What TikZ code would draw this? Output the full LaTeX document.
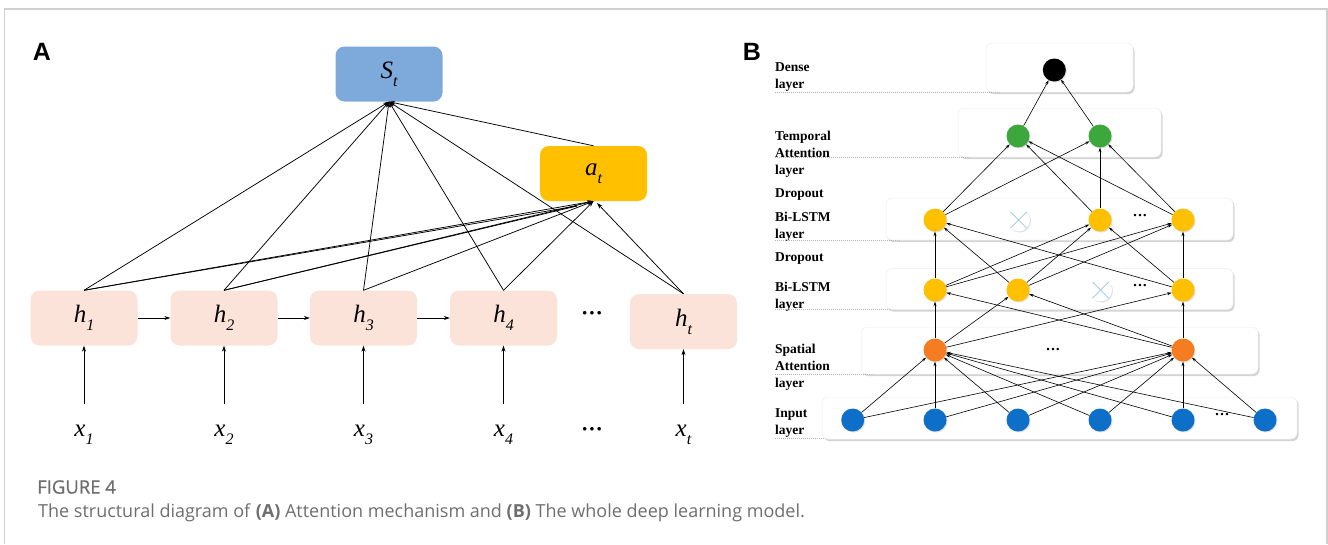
\documentclass[tikz,border=0pt]{standalone}
\usepackage{fontspec}
\setmainfont{Liberation Serif}
\newfontfamily\capfont{Open Sans}
\newfontfamily\capfontmed[FakeBold=0.8]{Open Sans}
\newfontfamily\panelfont{Liberation Sans}
\usetikzlibrary{arrows.meta,shadows}

\definecolor{stblue}{HTML}{7EAADB}
\definecolor{atgold}{HTML}{FFC000}
\definecolor{hpeach}{HTML}{FCE3D9}
\definecolor{inblue}{HTML}{0E6FC8}
\definecolor{saorange}{HTML}{F57C20}
\definecolor{tagreen}{HTML}{3DA63D}
\definecolor{lstmgold}{HTML}{FFC000}
\definecolor{xblue}{HTML}{9DC3E6}
\definecolor{framegray}{HTML}{D0D0D0}
\definecolor{capgray}{HTML}{6E6E6E}

\newcommand\lsub[1]{\raisebox{-0.32em}{\fontsize{16}{16}\selectfont #1}}

\tikzset{
  x=1pt, y=-1pt,
  blockA/.style={rectangle, rounded corners=9pt, inner sep=0pt,
    minimum width=107pt, minimum height=55pt,
    font=\fontsize{25}{25}\selectfont\itshape},
  hcell/.style={blockA, fill=hpeach},
  inlabel/.style={inner sep=0pt, minimum height=62pt,
    font=\fontsize{25}{25}\selectfont\itshape},
  arr/.style={-{Stealth[length=6pt,width=4pt]}, line width=0.75pt},
  link/.style={-{Stealth[length=4.5pt,width=3pt]}, line width=0.6pt},
  layerbox/.style={rectangle, rounded corners=6pt, fill=white,
    draw=black!7, line width=0.5pt,
    drop shadow={shadow xshift=1.5pt, shadow yshift=-2pt, opacity=0.35}},
  neuron/.style={circle, minimum size=23pt, inner sep=0pt,
    drop shadow={shadow xshift=1pt, shadow yshift=-1pt, opacity=0.25}},
  dropped/.style={neuron, fill=white,
    path picture={\draw[xblue, line width=0.7pt]
      (path picture bounding box.south west) -- (path picture bounding box.north east)
      (path picture bounding box.north west) -- (path picture bounding box.south east);}},
  layername/.style={anchor=north west, align=left, inner sep=0pt,
    font=\bfseries\fontsize{13.5}{17}\selectfont},
  guide/.style={draw=black!30, line width=0.6pt, dash pattern=on 1pt off 1pt},
  dots/.style={font=\bfseries\fontsize{22}{22}\selectfont, inner sep=0pt},
  dotsB/.style={font=\bfseries\fontsize{15}{15}\selectfont, inner sep=0pt},
}

\begin{document}
\begin{tikzpicture}
\useasboundingbox (0,0) rectangle (1328,544);

% outer frame
\draw[framegray, line width=1.5pt] (4.5,544) -- (4.5,9) -- (1327,9) -- (1327,544);

% ---------------- panel A: attention mechanism ----------------
\node[font=\panelfont\bfseries\fontsize{25}{25}\selectfont] (labA) at (42,52) {A};

\node[blockA, fill=stblue] (St) at (389,74) {S\lsub{t}};
\node[blockA, fill=atgold] (at) at (593.5,173.5) {a\lsub{t}};

\node[hcell] (h1) at (84,318) {h\lsub{1}};
\node[hcell] (h2) at (224,318) {h\lsub{2}};
\node[hcell] (h3) at (363.5,318) {h\lsub{3}};
\node[hcell] (h4) at (503.5,318) {h\lsub{4}};
\node[hcell] (ht) at (683.5,321.5) {h\lsub{t}};
\node[dots] (hdots) at (592,316) {···};

\node[inlabel] (x1) at (84,435) {x\lsub{1}};
\node[inlabel] (x2) at (224,435) {x\lsub{2}};
\node[inlabel] (x3) at (363.5,435) {x\lsub{3}};
\node[inlabel] (x4) at (503.5,435) {x\lsub{4}};
\node[inlabel] (xt) at (683.5,435) {x\lsub{t}};
\node[dots] (xdots) at (592,432) {···};

\coordinate (atL) at (577,206);
\coordinate (atR) at (597,203);

% inputs and recurrence
\foreach \i/\h in {x1/h1,x2/h2,x3/h3,x4/h4,xt/ht}
  \draw[arr] (\i.north) -- (\h.south);
\draw[arr] (h1) -- (h2);
\draw[arr] (h2) -- (h3);
\draw[arr] (h3) -- (h4);

% hidden states to the context vector
\foreach \h in {h1,h2,h3,h4,ht}
  \draw[arr] (\h.north) -- (St.south);
\draw[arr] (at.north) -- (St.south);

% hidden states to the attention weights
\draw[arr] (h1.north) -- (at.south);
\draw[line width=0.75pt] (h1.north) -- (atL);
\draw[arr] (h2.north) -- (at.south);
\draw[line width=0.75pt] (h2.north) -- (atL);
\draw[arr] (h3.north) -- (at.south);
\draw[arr] (h4.north) -- (at.south);
\draw[arr] (ht.north) -- (atR);

% ---------------- panel B: full model ----------------
\node[font=\panelfont\bfseries\fontsize{25}{25}\selectfont] (labB) at (752,51.5) {B};

% layer names and guide lines
\node[layername] (nDense) at (775,62) {Dense\\layer};
\node[layername] (nTemp) at (775,130.5) {Temporal\\Attention\\layer};
\node[layername] (nDrop1) at (775,188.5) {Dropout};
\node[layername] (nLstm1) at (775,211.5) {Bi-LSTM\\layer};
\node[layername] (nDrop2) at (775,252.3) {Dropout};
\node[layername] (nLstm2) at (775,282.3) {Bi-LSTM\\layer};
\node[layername] (nSpat) at (775,343.5) {Spatial\\Attention\\layer};
\node[layername] (nIn) at (775,408.5) {Input\\layer};

\draw[guide] (775,92) -- (1000,92);
\draw[guide] (775,157) -- (970,157);
\draw[guide] (775,240) -- (900,240);
\draw[guide] (775,309.5) -- (900,309.5);
\draw[guide] (775,374) -- (875,374);
\draw[guide] (775,438.5) -- (835,438.5);

% layer panels
\node[layerbox, minimum width=147pt, minimum height=49pt] (bDense) at (1059.5,67.5) {};
\node[layerbox, minimum width=203pt, minimum height=49pt] (bTemp) at (1059.5,132.5) {};
\node[layerbox, minimum width=347pt, minimum height=42pt] (bLstm1) at (1059.5,219) {};
\node[layerbox, minimum width=347pt, minimum height=41pt] (bLstm2) at (1059.5,289) {};
\node[layerbox, minimum width=397pt, minimum height=47pt] (bSpat) at (1059.5,350.5) {};
\node[layerbox, minimum width=475pt, minimum height=42pt] (bIn) at (1059.5,418) {};

% neurons
\node[neuron, fill=black] (d1) at (1054.3,70) {};
\node[neuron, fill=tagreen] (g1) at (1018,136) {};
\node[neuron, fill=tagreen] (g2) at (1100,136) {};

\node[neuron, fill=lstmgold] (u1) at (935,220) {};
\node[dropped] (u2) at (1018.5,220) {};
\node[neuron, fill=lstmgold] (u3) at (1100,220) {};
\node[dotsB] (udots) at (1140,217) {···};
\node[neuron, fill=lstmgold] (u4) at (1183,220) {};

\node[neuron, fill=lstmgold] (l1) at (935,290) {};
\node[neuron, fill=lstmgold] (l2) at (1018,290) {};
\node[dropped] (l3) at (1100.5,290) {};
\node[dotsB] (ldots) at (1140,287) {···};
\node[neuron, fill=lstmgold] (l4) at (1183,290) {};

\node[neuron, fill=saorange] (s1) at (935,350) {};
\node[dotsB] (sdots) at (1053,351) {···};
\node[neuron, fill=saorange] (s2) at (1183,350) {};

\node[neuron, fill=inblue] (i1) at (852.7,420) {};
\node[neuron, fill=inblue] (i2) at (935,420) {};
\node[neuron, fill=inblue] (i3) at (1018,420) {};
\node[neuron, fill=inblue] (i4) at (1100,420) {};
\node[neuron, fill=inblue] (i5) at (1183,420) {};
\node[dotsB] (idots) at (1222,416) {···};
\node[neuron, fill=inblue] (i6) at (1265,420) {};

% connections
\foreach \a in {i1,i2,i3,i4,i5,i6}
  \foreach \b in {s1,s2}
    \draw[link] (\a) -- (\b);
\foreach \a in {s1,s2}
  \foreach \b in {l1,l2,l4}
    \draw[link] (\a) -- (\b);
\foreach \a in {l1,l2,l4}
  \foreach \b in {u1,u3,u4}
    \draw[link] (\a) -- (\b);
\foreach \a in {u1,u3,u4}
  \foreach \b in {g1,g2}
    \draw[link] (\a) -- (\b);
\foreach \a in {g1,g2}
  \draw[link] (\a) -- (d1);

% ---------------- caption ----------------
\node[anchor=west, inner sep=0pt, text=capgray,
  font=\capfontmed\fontsize{18.5}{18.5}\selectfont] (figno) at (37,487) {FIGURE 4};
\node[anchor=west, inner sep=0pt, text=capgray,
  font=\capfont\fontsize{18}{18}\selectfont] (figcap) at (38,513)
  {The structural diagram of \textbf{(A)} Attention mechanism and \textbf{(B)} The whole deep learning model.};
\end{tikzpicture}
\end{document}
